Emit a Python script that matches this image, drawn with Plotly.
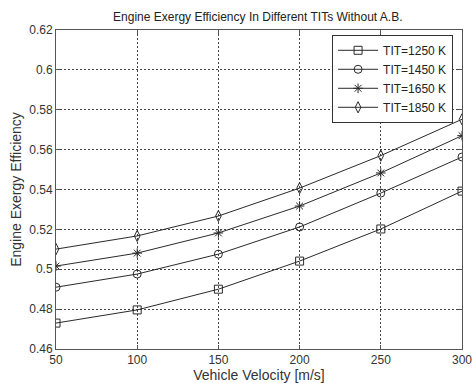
import plotly.graph_objects as go

velocity = [50, 100, 150, 200, 250, 300]
tit_1250 = [0.473, 0.4796, 0.490, 0.5041, 0.5202, 0.5392]
tit_1450 = [0.491, 0.4976, 0.5076, 0.5212, 0.5382, 0.5563]
tit_1650 = [0.5016, 0.5081, 0.5182, 0.5317, 0.5483, 0.567]
tit_1850 = [0.5101, 0.5167, 0.5267, 0.5407, 0.557, 0.5752]
names = ["TIT=1250 K", "TIT=1450 K", "TIT=1650 K", "TIT=1850 K"]
symbols = ["square-open", "circle-open", "asterisk-open", "diamond-tall-open"]

fig = go.Figure()
for name, vals, sym in zip(names, [tit_1250, tit_1450, tit_1650, tit_1850], symbols):
    fig.add_trace(go.Scatter(
        x=velocity, y=vals, name=name, mode="lines+markers",
        line=dict(color="#2a2a2a", width=1),
        marker=dict(symbol=sym, size=8, color="#2a2a2a", line=dict(width=1, color="#2a2a2a")),
    ))

font = dict(family="Liberation Sans, Arial, sans-serif", size=12, color="#333333")
axis_common = dict(
    showline=True, linecolor="#555555", linewidth=1, mirror="allticks",
    ticks="inside", ticklen=4, tickcolor="#555555",
    showgrid=True, gridcolor="#444444", griddash="2px,2px", gridwidth=1,
    zeroline=False, tickfont=font, automargin=False,
)

fig.update_layout(
    width=473, height=383,
    margin=dict(l=56, r=11, t=30, b=34),
    paper_bgcolor="white", plot_bgcolor="white",
    font=font,
    title=dict(text="Engine Exergy Efficiency In Different TITs Without A.B.",
               x=0.545, xanchor="center", y=0.955, yanchor="middle",
               font=dict(family="Liberation Sans, Arial, sans-serif", size=12, color="#222222")),
    xaxis=dict(range=[50, 300], tickvals=[50, 100, 150, 200, 250, 300],
               title=dict(text="Vehicle Velocity [m/s]", standoff=2), **axis_common),
    yaxis=dict(range=[0.46, 0.62], dtick=0.02,
               title=dict(text="Engine Exergy Efficiency", standoff=4), **axis_common),
    legend=dict(x=0.978, y=0.985, xanchor="right", yanchor="top",
                bgcolor="white", bordercolor="#333333", borderwidth=1,
                font=dict(family="Liberation Sans, Arial, sans-serif", size=12, color="#222222"),
                tracegroupgap=0, itemwidth=40),
    showlegend=True,
)

fig.write_html("out.html")
